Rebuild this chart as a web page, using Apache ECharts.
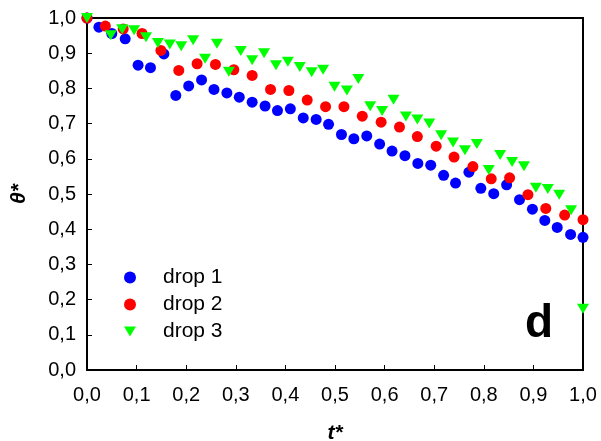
<!DOCTYPE html>
<html>
<head>
<meta charset="utf-8">
<script src="https://cdn.jsdelivr.net/npm/echarts@6/dist/echarts.min.js"></script>
<style>html,body{margin:0;padding:0;background:#fff}#c{width:601px;height:441px}</style>
</head>
<body>
<div id="c"></div>
<script>
const seriesNames = ['drop 1', 'drop 2', 'drop 3'];
const xTicks = ['0,0','0,1','0,2','0,3','0,4','0,5','0,6','0,7','0,8','0,9','1,0'];
const drop1X = [0,0.024,0.050,0.077,0.103,0.128,0.155,0.179,0.205,0.231,0.256,0.282,0.307,0.333,0.359,0.384,0.410,0.436,0.462,0.487,0.513,0.538,0.564,0.590,0.615,0.641,0.667,0.693,0.719,0.743,0.770,0.794,0.820,0.846,0.872,0.898,0.923,0.948,0.975,1.0];
const drop1Y = [1.0,0.974,0.956,0.941,0.866,0.859,0.898,0.780,0.807,0.824,0.797,0.787,0.775,0.761,0.750,0.737,0.742,0.716,0.712,0.698,0.669,0.657,0.665,0.642,0.622,0.609,0.587,0.582,0.553,0.531,0.562,0.516,0.501,0.526,0.484,0.457,0.425,0.405,0.385,0.377];
const drop2X = [0,0.037,0.073,0.111,0.149,0.185,0.222,0.259,0.296,0.333,0.370,0.407,0.444,0.481,0.518,0.555,0.593,0.630,0.666,0.704,0.740,0.778,0.815,0.852,0.889,0.925,0.963,1.0];
const drop2Y = [1.0,0.977,0.969,0.956,0.908,0.851,0.870,0.868,0.853,0.837,0.797,0.794,0.767,0.748,0.748,0.721,0.704,0.690,0.663,0.636,0.605,0.578,0.543,0.546,0.498,0.459,0.440,0.427];
const drop3X = [0,0.048,0.071,0.095,0.119,0.143,0.167,0.190,0.214,0.238,0.262,0.286,0.310,0.333,0.357,0.381,0.405,0.429,0.453,0.476,0.499,0.524,0.547,0.571,0.595,0.618,0.643,0.666,0.690,0.714,0.738,0.762,0.786,0.810,0.833,0.857,0.881,0.905,0.929,0.952,0.976,1.0];
const drop3Y = [1.0,0.951,0.968,0.965,0.945,0.929,0.925,0.920,0.937,0.884,0.927,0.847,0.906,0.880,0.900,0.866,0.876,0.861,0.846,0.853,0.805,0.794,0.827,0.749,0.736,0.768,0.720,0.712,0.700,0.667,0.646,0.624,0.642,0.568,0.611,0.591,0.579,0.518,0.514,0.498,0.454,0.174];

const zip = (a, b) => a.map((v, i) => [v, b[i]]);
const FONT = '"Liberation Sans", Arial, sans-serif';

const chart = echarts.init(document.getElementById('c'), null, {renderer: 'canvas'});
chart.setOption({
  animation: false,
  backgroundColor: '#fff',
  grid: {left: 87, right: 18, top: 18, bottom: 71, show: true, borderColor: '#000', borderWidth: 2, backgroundColor: 'transparent', containLabel: false, outerBoundsMode: 'none'},
  xAxis: {
    type: 'value', min: 0, max: 1, interval: 0.1,
    name: 't*', nameLocation: 'middle', nameGap: 53,
    nameTextStyle: {fontFamily: FONT, fontSize: 21, fontWeight: 'bold', fontStyle: 'italic', color: '#000'},
    axisLine: {show: true, lineStyle: {color: '#000', width: 2}},
    axisTick: {show: true, inside: true, length: 5, lineStyle: {color: '#000', width: 1}},
    splitLine: {show: false},
    axisLabel: {fontFamily: FONT, fontSize: 20, color: '#000', margin: 15,
      formatter: v => xTicks[Math.round(v * 10)]}
  },
  yAxis: {
    type: 'value', min: 0, max: 1, interval: 0.1,
    name: 'θ*', nameLocation: 'middle', nameGap: 57, nameRotate: 90,
    nameTextStyle: {fontFamily: FONT, fontSize: 21, fontWeight: 'bold', fontStyle: 'italic', color: '#000'},
    axisLine: {show: true, lineStyle: {color: '#000', width: 2}},
    axisTick: {show: true, inside: true, length: 5, lineStyle: {color: '#000', width: 1}},
    splitLine: {show: false},
    axisLabel: {fontFamily: FONT, fontSize: 20, color: '#000', margin: 11,
      formatter: v => xTicks[Math.round(v * 10)]}
  },
  legend: {
    orient: 'vertical', left: 119, top: 262,
    itemWidth: 12, itemHeight: 12, itemGap: 6,
    textStyle: {fontFamily: FONT, fontSize: 21, color: '#000', lineHeight: 21, padding: [0, 0, 0, 22]},
    data: [
      {name: seriesNames[0], icon: 'circle'},
      {name: seriesNames[1], icon: 'circle'},
      {name: seriesNames[2], icon: 'path://M0,0 L12,0 L6,10 Z'}
    ]
  },
  graphic: [{
    type: 'text', left: 525, top: 301, z: 10,
    style: {text: 'd', font: 'bold 46px ' + FONT, fill: '#000'}
  }],
  series: [
    {name: seriesNames[0], type: 'scatter', data: zip(drop1X, drop1Y), symbol: 'circle', symbolSize: 11,
      itemStyle: {color: '#0000FF', opacity: 1}, clip: false, z: 5},
    {name: seriesNames[1], type: 'scatter', data: zip(drop2X, drop2Y), symbol: 'circle', symbolSize: 11,
      itemStyle: {color: '#FF0000', opacity: 1}, clip: false, z: 6},
    {name: seriesNames[2], type: 'scatter', data: zip(drop3X, drop3Y), symbol: 'triangle', symbolSize: [12, 10], symbolRotate: 180,
      itemStyle: {color: '#00FF00', opacity: 1}, clip: false, z: 7}
  ]
});
</script>
</body>
</html>
